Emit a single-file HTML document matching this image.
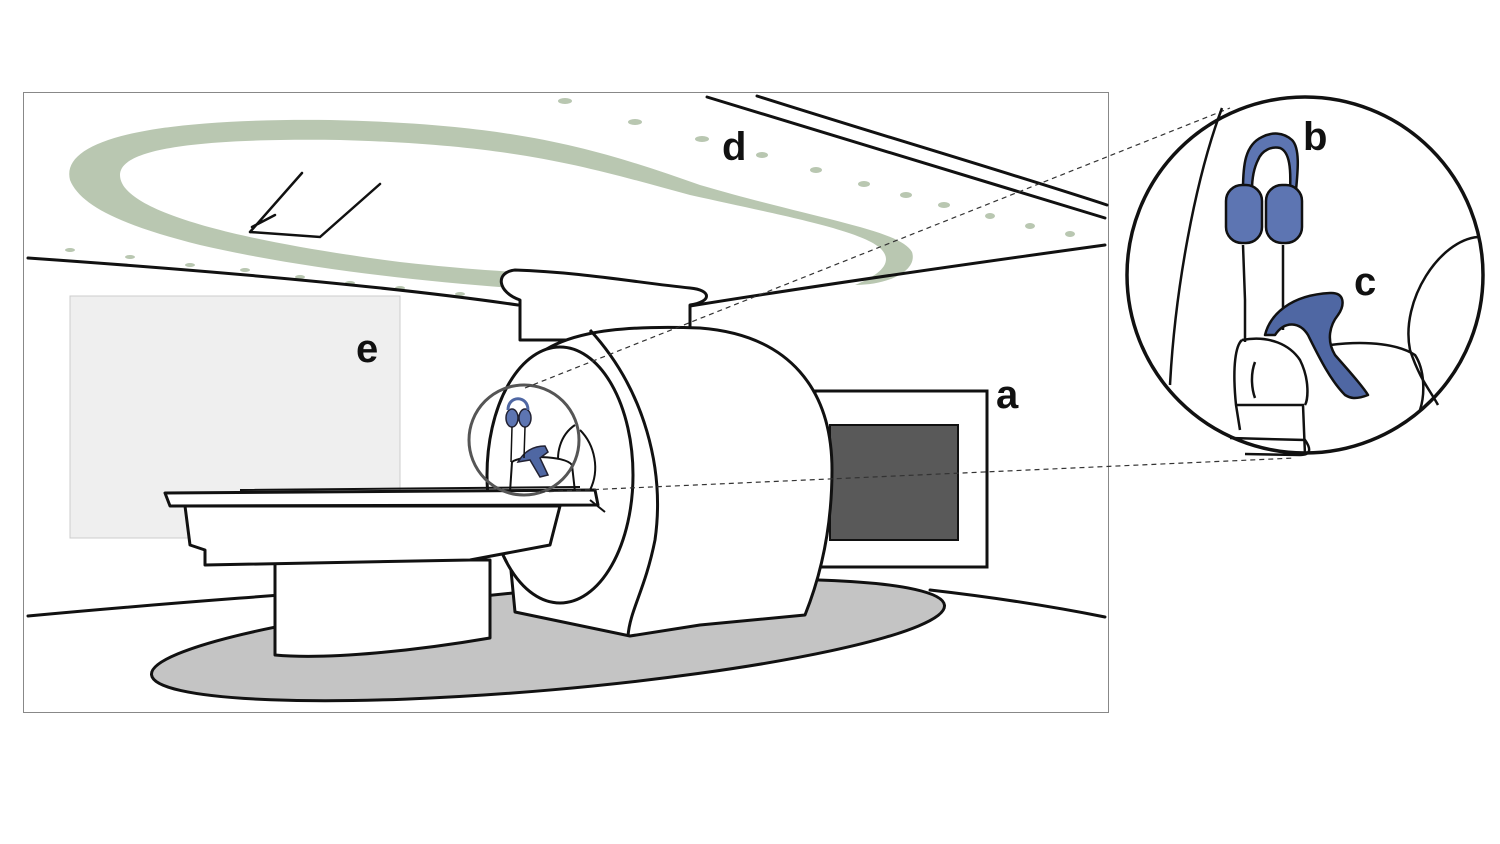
<!DOCTYPE html>
<html><head><meta charset="utf-8"><style>
html,body{margin:0;padding:0;background:#fff;}
svg{display:block;}
text{font-family:"Liberation Sans",sans-serif;font-weight:bold;font-size:40px;fill:#111;}
</style></head><body>
<svg width="1500" height="844" viewBox="0 0 1500 844" xmlns="http://www.w3.org/2000/svg">
<rect x="0" y="0" width="1500" height="844" fill="#fff"/>
<rect x="23.5" y="92.5" width="1085" height="620" fill="#fff" stroke="#888" stroke-width="1"/>
<rect x="70" y="296" width="330" height="242" fill="#efefef" stroke="#ccc" stroke-width="1"/>
<path fill-rule="evenodd" fill="#b9c7b1" d="M70,180 C60,140 150,118 330,120 C520,124 600,150 700,185 C820,220 900,230 912,252 C918,270 890,285 855,285 C880,275 895,262 880,248 C860,230 780,215 690,195 C590,168 520,145 340,140 C190,138 120,150 120,175 C120,210 230,240 400,262 C470,270 520,272 560,275 L540,290 C420,282 300,268 200,245 C120,225 80,205 70,180 Z"/>
<g fill="#b9c7b1">
<ellipse cx="565" cy="101" rx="7" ry="3"/><ellipse cx="635" cy="122" rx="7" ry="3"/><ellipse cx="702" cy="139" rx="7" ry="3"/><ellipse cx="762" cy="155" rx="6" ry="3"/><ellipse cx="816" cy="170" rx="6" ry="3"/><ellipse cx="864" cy="184" rx="6" ry="3"/><ellipse cx="906" cy="195" rx="6" ry="3"/><ellipse cx="944" cy="205" rx="6" ry="3"/><ellipse cx="990" cy="216" rx="5" ry="3"/><ellipse cx="1030" cy="226" rx="5" ry="3"/><ellipse cx="1070" cy="234" rx="5" ry="3"/>
<ellipse cx="70" cy="250" rx="5" ry="2"/><ellipse cx="130" cy="257" rx="5" ry="2"/><ellipse cx="190" cy="265" rx="5" ry="2"/><ellipse cx="245" cy="270" rx="5" ry="2"/><ellipse cx="300" cy="277" rx="5" ry="2"/><ellipse cx="350" cy="283" rx="5" ry="2"/><ellipse cx="400" cy="288" rx="5" ry="2"/><ellipse cx="460" cy="294" rx="5" ry="2"/>
</g>
<g fill="none" stroke="#111" stroke-width="2.5" stroke-linecap="round">
<path d="M250,232 L302,173 M250,232 L320,237 L380,184 M252,227 L275,215"/>
</g>
<g fill="none" stroke="#111" stroke-width="3" stroke-linecap="round">
<path d="M28,258 C200,270 380,285 518,305"/>
<path d="M690,306 C820,285 960,265 1105,245"/>
<path d="M707,97 C850,140 980,180 1105,218"/>
<path d="M757,96 C880,135 1000,170 1107,205"/>
<path d="M28,616 C200,600 350,590 490,580"/>
<path d="M930,590 C1000,598 1060,608 1105,617"/>
</g>
<ellipse cx="548" cy="640" rx="398" ry="50" transform="rotate(-5 548 640)" fill="#c4c4c4" stroke="#111" stroke-width="3"/>
<rect x="815" y="391" width="172" height="176" fill="#fff" stroke="#111" stroke-width="3"/>
<rect x="830" y="425" width="128" height="115" fill="#595959" stroke="#111" stroke-width="2"/>
<path d="M520,300 L520,340 L690,340 L690,305 C712,302 712,290 690,288 C640,283 580,272 515,270 C495,272 497,292 520,300 Z" fill="#fff" stroke="#111" stroke-width="3" stroke-linejoin="round"/>
<path d="M518,380 C540,330 620,325 700,328 C790,335 832,390 832,470 C832,540 815,590 805,615 L700,625 L630,636 L515,612 L510,560 Z" fill="#fff" stroke="#111" stroke-width="3" stroke-linejoin="round"/>
<path d="M590,330 C645,390 665,470 655,540 C645,590 630,610 628,636" fill="none" stroke="#111" stroke-width="3"/>
<ellipse cx="560" cy="475" rx="73" ry="128" fill="#fff" stroke="#111" stroke-width="3"/>
<path d="M575,425 C560,435 555,455 560,470 M580,430 C595,445 600,470 590,490" fill="none" stroke="#111" stroke-width="2"/>
<path d="M510,492 L512,462 C520,455 565,455 572,465 L575,492 Z" fill="#fff" stroke="#111" stroke-width="2"/>
<path d="M518,462 C525,450 535,446 545,446 L548,452 L540,458 L548,475 L540,477 L530,460 Z" fill="#4f67a3" stroke="#223" stroke-width="1.5"/>
<g fill="#5d75b2" stroke="#223" stroke-width="1.5"><ellipse cx="512" cy="418" rx="6" ry="9"/><ellipse cx="525" cy="418" rx="6" ry="9"/><path d="M508,410 C508,395 528,395 528,410" fill="none" stroke="#4f67a3" stroke-width="3"/></g>
<path d="M512,427 L511,462 M525,427 L524,458" stroke="#111" stroke-width="1.5"/>
<path d="M275,560 L275,655 C330,660 420,650 490,638 L490,560 Z" fill="#fff" stroke="#111" stroke-width="3" stroke-linejoin="round"/>
<path d="M185,506 L190,545 L205,550 L205,565 L470,560 L550,545 L560,506 Z" fill="#fff" stroke="#111" stroke-width="3" stroke-linejoin="round"/>
<path d="M165,493 L595,490 L598,505 L170,506 Z" fill="#fff" stroke="#111" stroke-width="3" stroke-linejoin="round"/>
<path d="M240,490 L580,487 M590,500 L605,512" stroke="#111" stroke-width="2" fill="none"/>
<circle cx="524" cy="440" r="55" fill="none" stroke="#555" stroke-width="3"/>
<g stroke="#333" stroke-width="1.2" stroke-dasharray="5,4" fill="none">
<path d="M525,388 L1230,108"/>
<path d="M540,492 L1295,458"/>
</g>
<circle cx="1305" cy="275" r="178" fill="#fff" stroke="#111" stroke-width="3.5"/>
<g fill="none" stroke="#111" stroke-width="2.5">
<path d="M1222,108 C1195,180 1175,290 1170,385"/>
<path d="M1478,237 C1440,240 1400,300 1410,350 C1420,380 1430,390 1438,405"/>
<path d="M1242,340 C1236,345 1232,365 1236,405 L1240,430 M1236,405 L1303,405 L1305,455"/>
<path d="M1242,340 C1270,335 1290,345 1300,360 C1310,380 1308,400 1305,405"/>
<path d="M1330,345 C1370,340 1400,345 1415,355 C1425,370 1425,395 1420,410"/>
<path d="M1255,398 C1252,390 1250,375 1255,362"/>
<path d="M1245,342 L1245,300 L1243,245 M1283,330 L1283,245"/>
<path d="M1230,438 L1305,440 C1312,450 1310,455 1300,455 L1245,454"/>
</g>
<path d="M1265,335 C1270,315 1290,295 1330,293 C1345,292 1345,305 1338,315 C1330,325 1326,340 1335,355 C1348,370 1362,385 1368,395 C1355,400 1350,398 1345,395 C1330,380 1318,355 1308,335 C1300,322 1285,320 1275,335 Z" fill="#4f67a3" stroke="#111" stroke-width="2.5" stroke-linejoin="round"/>
<g fill="#5d75b2" stroke="#111" stroke-width="2.5">
<path d="M1243,190 C1243,165 1245,145 1262,137 C1272,132 1283,132 1292,140 C1300,148 1298,170 1296,190 L1290,190 C1291,170 1290,152 1280,148 C1272,146 1262,150 1258,160 C1253,170 1252,180 1252,190 Z"/>
<rect x="1226" y="185" width="36" height="58" rx="16"/>
<rect x="1266" y="185" width="36" height="58" rx="16"/>
</g>
<g>
<text x="722" y="160">d</text>
<text x="1303" y="150">b</text>
<text x="1354" y="295">c</text>
<text x="996" y="408">a</text>
<text x="356" y="362">e</text>
</g>
</svg>
</body></html>
